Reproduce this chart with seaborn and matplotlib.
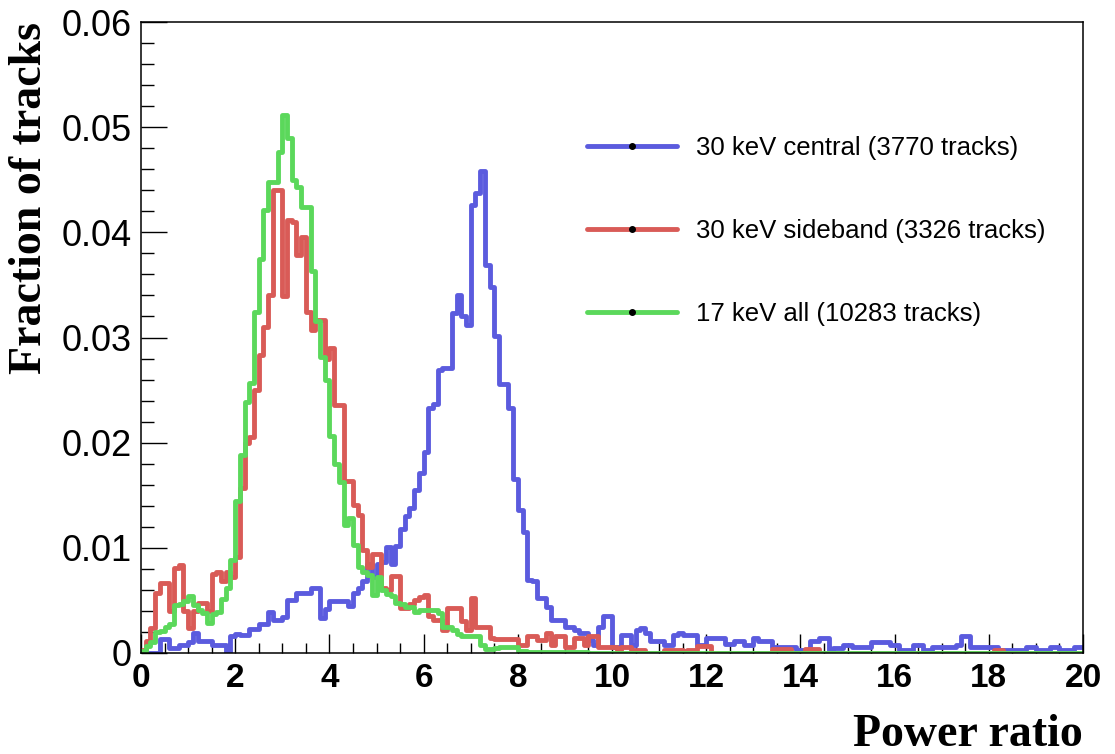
import numpy as np
import pandas as pd
import matplotlib
matplotlib.use("Agg")
import matplotlib.pyplot as plt
import seaborn as sns
from matplotlib.lines import Line2D
from matplotlib.ticker import MultipleLocator, FixedLocator, FixedFormatter

# ---------------- data (fraction of tracks per 0.1-wide bin, 0..20) ----------------
bin_edges = np.round(np.linspace(0.0, 20.0, 201), 3)

central_30kev = [
    0, 0, 0, 0, 0.0013, 0.0013, 0.0005, 0.0005, 0.0008, 0.0008,
    0.0010, 0.0019, 0.0011, 0.0011, 0.0011, 0.0008, 0.0008, 0.0008, 0, 0.0016,
    0.0018, 0.0017, 0.0017, 0.0023, 0.0023, 0.0028, 0.0028, 0.0039, 0.0031, 0.0031,
    0.0034, 0.0050, 0.0050, 0.0057, 0.0057, 0.0057, 0.0062, 0.0062, 0.0033, 0.0042,
    0.0049, 0.0049, 0.0049, 0.0049, 0.0045, 0.0057, 0.0062, 0.0068, 0.0085, 0.0072,
    0.0085, 0.0087, 0.0101, 0.0085, 0.0102, 0.0118, 0.0130, 0.0138, 0.0155, 0.0171,
    0.0191, 0.0233, 0.0237, 0.0269, 0.0271, 0.0271, 0.0323, 0.0340, 0.0320, 0.0312,
    0.0426, 0.0437, 0.0458, 0.0369, 0.0348, 0.0301, 0.0256, 0.0256, 0.0233, 0.0165,
    0.0136, 0.0115, 0.0069, 0.0068, 0.0052, 0.0052, 0.0044, 0.0031, 0.0031, 0.0031,
    0.0025, 0.0025, 0.0022, 0.0019, 0.0019, 0.0012, 0.0008, 0.0025, 0.0035, 0.0035,
    0.0006, 0.0006, 0.0017, 0.0017, 0.0008, 0.0022, 0.0024, 0.0019, 0.0011, 0.0011,
    0.0011, 0.0008, 0.0008, 0.0017, 0.0019, 0.0017, 0.0017, 0.0017, 0.0008, 0.0008,
    0.0014, 0.0014, 0.0014, 0.0014, 0.0009, 0.0009, 0.0011, 0.0011, 0.0008, 0.0008,
    0.0014, 0.0011, 0.0011, 0.0011, 0.0006, 0.0006, 0.0006, 0.0006, 0.0006, 0.0003,
    0.0003, 0.0003, 0.0011, 0.0011, 0.0014, 0.0014, 0, 0.0005, 0.0005, 0.0008,
    0.0008, 0.0006, 0.0006, 0.0006, 0.0006, 0.0010, 0.0010, 0.0010, 0.0010, 0.0008,
    0.0008, 0.0003, 0.0003, 0.0003, 0.0008, 0.0008, 0.0003, 0.0003, 0.0006, 0.0006,
    0.0006, 0.0006, 0.0006, 0.0008, 0.0016, 0.0016, 0.0006, 0.0006, 0.0006, 0.0006,
    0.0006, 0.0006, 0.0003, 0.0003, 0.0003, 0.0003, 0.0003, 0.0003, 0.0006, 0.0006,
    0.0003, 0.0003, 0.0003, 0.0006, 0.0006, 0.0003, 0.0003, 0.0003, 0.0006, 0.0006,
]

sideband_30kev = [
    0.0003, 0.0011, 0.0024, 0.0057, 0.0067, 0.0067, 0.0040, 0.0081, 0.0084, 0.0040,
    0.0024, 0.0040, 0.0048, 0.0048, 0.0040, 0.0075, 0.0077, 0.0068, 0.0077, 0.0072,
    0.0091, 0.0157, 0.0200, 0.0205, 0.0250, 0.0283, 0.0310, 0.0340, 0.0440, 0.0440,
    0.0339, 0.0412, 0.0410, 0.0378, 0.0396, 0.0324, 0.0307, 0.0317, 0.0317, 0.0280,
    0.0290, 0.0236, 0.0236, 0.0164, 0.0164, 0.0141, 0.0131, 0.0098, 0.0082, 0.0094,
    0.0094, 0.0062, 0.0060, 0.0073, 0.0073, 0.0043, 0.0043, 0.0047, 0.0050, 0.0053,
    0.0055, 0.0035, 0.0031, 0.0031, 0.0022, 0.0043, 0.0043, 0.0043, 0.0030, 0.0022,
    0.0052, 0.0025, 0.0025, 0.0025, 0.0014, 0.0013, 0.0013, 0.0013, 0.0013, 0.0013,
    0.0008, 0.0008, 0.0016, 0.0016, 0.0012, 0.0012, 0.0019, 0.0008, 0.0016, 0.0016,
    0.0006, 0.0006, 0.0014, 0.0014, 0.0008, 0.0016, 0.0016, 0.0006, 0.0006, 0.0006,
    0.0006, 0.0003, 0.0006, 0.0006, 0.0003, 0.0003, 0.0003, 0, 0, 0,
    0, 0.0003, 0.0003, 0.0003, 0.0003, 0, 0.0003, 0.0003, 0.0007, 0.0007,
    0.0007, 0, 0, 0, 0, 0, 0, 0, 0, 0,
    0, 0, 0, 0, 0.0004, 0.0004, 0.0004, 0.0004, 0, 0,
    0, 0.0004, 0.0004, 0.0004, 0, 0, 0, 0, 0, 0,
    0, 0, 0, 0, 0, 0, 0, 0, 0, 0,
    0, 0, 0, 0, 0, 0, 0, 0, 0, 0,
    0, 0, 0, 0, 0, 0, 0, 0, 0, 0,
    0, 0.0003, 0.0003, 0, 0, 0, 0, 0, 0, 0,
    0, 0, 0, 0, 0, 0, 0, 0, 0, 0,
]

all_17kev = [
    0.0002, 0.0007, 0.0010, 0.0020, 0.0021, 0.0025, 0.0028, 0.0046, 0.0047, 0.0049,
    0.0054, 0.0046, 0.0041, 0.0038, 0.0029, 0.0037, 0.0039, 0.0051, 0.0062, 0.0088,
    0.0145, 0.0188, 0.0239, 0.0257, 0.0324, 0.0375, 0.0421, 0.0448, 0.0448, 0.0476,
    0.0512, 0.0490, 0.0450, 0.0443, 0.0424, 0.0424, 0.0363, 0.0316, 0.0281, 0.0260,
    0.0206, 0.0180, 0.0163, 0.0122, 0.0128, 0.0103, 0.0082, 0.0077, 0.0074, 0.0055,
    0.0072, 0.0060, 0.0056, 0.0054, 0.0048, 0.0047, 0.0044, 0.0044, 0.0039, 0.0041,
    0.0041, 0.0041, 0.0041, 0.0038, 0.0025, 0.0025, 0.0022, 0.0018, 0.0016, 0.0016,
    0.0016, 0.0016, 0.0008, 0.0004, 0.0004, 0.0005, 0.0006, 0.0006, 0.0006, 0.0006,
    0.0002, 0.0002, 0.0001, 0.0001, 0.0001, 0.0001, 0.0001, 0.0001, 0.0001, 0.0001,
    0.0001, 0.0001, 0.0001, 0.0001, 0.0001, 0, 0, 0, 0, 0,
] + [0] * 100

series_labels = [
    "30 keV central (3770 tracks)",
    "30 keV sideband (3326 tracks)",
    "17 keV all (10283 tracks)",
]
series_colors = ["#5b5bde", "#d95b57", "#5bd85b"]

y_tick_values = [0, 0.01, 0.02, 0.03, 0.04, 0.05, 0.06]
y_tick_labels = ["0", "0.01", "0.02", "0.03", "0.04", "0.05", "0.06"]
x_tick_values = [0, 2, 4, 6, 8, 10, 12, 14, 16, 18, 20]
x_tick_labels = [str(v) for v in x_tick_values]

# ---------------- plotting ----------------
sns.set_theme(style="white")
plt.rcParams['font.family'] = ['Liberation Sans', 'DejaVu Sans']
for key in ["text.color", "axes.labelcolor", "xtick.color", "ytick.color", "axes.edgecolor"]:
    plt.rcParams[key] = "black"

W, H = 1115, 754
fig = plt.figure(figsize=(W / 100, H / 100), dpi=100)
ax = fig.add_axes([141 / W, 1 - 653 / H, (1083 - 141) / W, (653 - 22) / H])

centers = (bin_edges[:-1] + bin_edges[1:]) / 2
n_bins = len(bin_edges) - 1
all_series = [central_30kev, sideband_30kev, all_17kev]
for vals, col in zip(all_series, series_colors):
    df = pd.DataFrame({"ratio": centers, "frac": np.asarray(vals, dtype=float)})
    sns.histplot(data=df, x="ratio", weights="frac", bins=n_bins,
                 binrange=(float(bin_edges[0]), float(bin_edges[-1])),
                 element="step", fill=False, color=col, linewidth=3.5, ax=ax)

ax.set_xlim(0, 20)
ax.set_ylim(0, 0.06)
ax.set_xlabel("")
ax.set_ylabel("")

for s in ax.spines.values():
    s.set_visible(True)
    s.set_color("black")
    s.set_linewidth(1.1)

ax.xaxis.set_major_locator(FixedLocator(x_tick_values))
ax.xaxis.set_major_formatter(FixedFormatter(x_tick_labels))
ax.xaxis.set_minor_locator(MultipleLocator(0.5))
ax.yaxis.set_major_locator(FixedLocator(y_tick_values))
ax.yaxis.set_major_formatter(FixedFormatter(y_tick_labels))
ax.yaxis.set_minor_locator(MultipleLocator(0.002))

ax.tick_params(axis="x", which="major", direction="in", length=14, width=1.0,
               color="black", labelcolor="black", bottom=True, top=False, pad=7, labelsize=24)
ax.tick_params(axis="x", which="minor", direction="in", length=7, width=1.0,
               color="black", bottom=True, top=False)
ax.tick_params(axis="y", which="major", direction="in", length=19, width=1.0,
               color="black", labelcolor="black", left=True, right=False, pad=6.5, labelsize=26)
ax.tick_params(axis="y", which="minor", direction="in", length=9.5, width=1.0,
               color="black", left=True, right=False)
for lab in ax.get_xticklabels():
    lab.set_fontweight("bold")
ax.grid(False)

fig.text(30 / W, 1 - 22 / H, "Fraction of tracks", rotation=90, ha="center", va="top",
         fontsize=33, fontweight="bold", color="black",
         family=["Liberation Serif", "DejaVu Serif"])
fig.text(1083 / W, 1 - 735 / H, "Power ratio", ha="right", va="center",
         fontsize=33, fontweight="bold", color="black",
         family=["Liberation Serif", "DejaVu Serif"])

handles = [Line2D([], [], color=c, lw=3.5, marker="o", markersize=4,
                  markerfacecolor="black", markeredgecolor="black") for c in series_colors]
leg = ax.legend(handles, series_labels, loc="upper left",
                bbox_to_anchor=(587 / W, 1 - 136 / H), bbox_transform=fig.transFigure,
                frameon=False, fontsize=18.5, handlelength=3.5, handletextpad=0.74,
                labelspacing=2.29, borderpad=0, borderaxespad=0, numpoints=1)
for t in leg.get_texts():
    t.set_color("black")

fig.savefig("out.png", dpi=100)
